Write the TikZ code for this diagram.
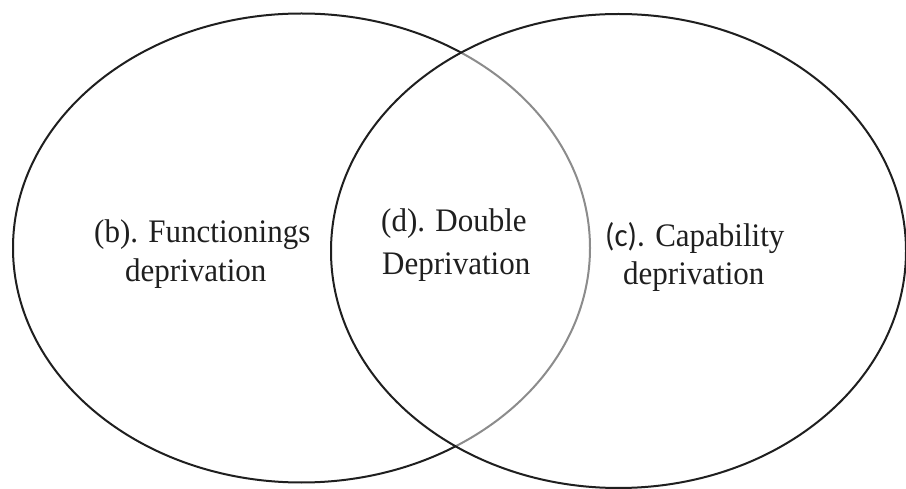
\documentclass[tikz,border=0pt]{standalone}
\usepackage{fontspec}
\setmainfont{Liberation Serif}
\newfontfamily\carlitofont{Carlito}
\begin{document}
\begin{tikzpicture}[x=1pt,y=-1pt,
  ring/.style={line width=2pt, draw=black!88},
  grayring/.style={line width=2pt, draw=black!45},
  lbl/.style={inner sep=0pt, anchor=base west, text=black!88, font=\fontsize{31}{38}\selectfont}]
\useasboundingbox (0,0) rectangle (906,489);
\fill[white] (0,0) rectangle (906,489);
% left ellipse: gray inside the right ellipse
\begin{scope}
  \clip (618.5,251) ellipse (287.5 and 237);
  \draw[grayring] (301.5,248) ellipse (288.5 and 234.5);
\end{scope}
% left ellipse: black outside the right ellipse
\begin{scope}[even odd rule]
  \clip (-10,-10) -- (920,-10) -- (920,500) -- (-10,500) -- cycle
     (618.5,251) ellipse (287.5 and 237);
  \draw[ring] (301.5,248) ellipse (288.5 and 234.5);
\end{scope}
% right ellipse
\draw[ring] (618.5,251) ellipse (287.5 and 237);
% labels
\node[lbl] (b1) at (94,243) {\scalebox{1}[1.06]{(b). Functionings}};
\node[lbl] (b2) at (125,282) {\scalebox{1}[1.06]{deprivation}};
\node[lbl] (d1) at (381,232) {\scalebox{1}[1.06]{(d). Double}};
\node[lbl] (d2) at (382,275) {\scalebox{1}[1.06]{Deprivation}};
\node[lbl] (c1) at (605,247) {\scalebox{1}[1.06]{{\carlitofont (c).} Capability}};
\node[lbl] (c2) at (623,285) {\scalebox{1}[1.06]{deprivation}};
\end{tikzpicture}
\end{document}
